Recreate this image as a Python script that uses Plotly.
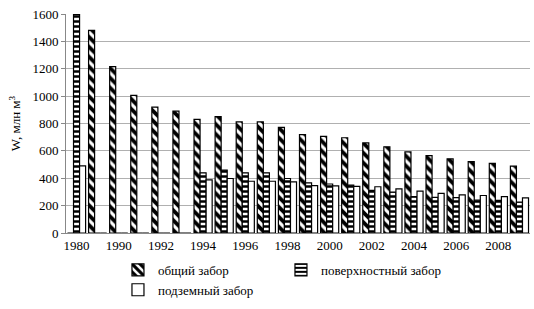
import plotly.graph_objects as go

years = ["1980", "1985", "1990", "1991", "1992", "1993", "1994", "1995", "1996", "1997",
         "1998", "1999", "2000", "2001", "2002", "2003", "2004", "2005", "2006", "2007",
         "2008", "2009"]
total = [0, 1480, 1215, 1005, 920, 890, 830, 850, 812, 812,
         772, 718, 706, 696, 658, 630, 592, 566, 542, 522,
         508, 488]
surface = [1595, 0, 0, 0, 0, 0, 440, 460, 440, 440,
           398, 366, 358, 350, 312, 298, 266, 260, 258, 240,
           238, 225]
ground = [490, 0, 0, 0, 0, 0, 388, 398, 378, 378,
          374, 346, 344, 340, 338, 322, 306, 290, 278, 274,
          266, 256]
tick_years = years[::2]

font_family = "Liberation Serif"

fig = go.Figure()
fig.add_trace(go.Bar(
    x=years, y=total, name="общий забор",
    marker=dict(color="white", line=dict(color="black", width=1.2),
                pattern=dict(shape="\\", fgcolor="black", bgcolor="white",
                             size=7, solidity=0.55, fillmode="replace")),
))
fig.add_trace(go.Bar(
    x=years, y=surface, name="поверхностный забор",
    marker=dict(color="white", line=dict(color="black", width=1.2),
                pattern=dict(shape="-", fgcolor="black", bgcolor="white",
                             size=5, solidity=0.5, fillmode="replace")),
))
fig.add_trace(go.Bar(
    x=years, y=ground, name="подземный забор",
    marker=dict(color="white", line=dict(color="black", width=1.2)),
))

fig.update_layout(
    width=534, height=309,
    margin=dict(l=66, r=4, t=14, b=76, autoexpand=False),
    paper_bgcolor="white", plot_bgcolor="white",
    barmode="group", bargap=0.14, bargroupgap=0,
    font=dict(family=font_family, size=13, color="black"),
    showlegend=True,
    legend=dict(orientation="h", x=0.112, xanchor="left", y=-0.10, yanchor="top",
                entrywidth=118, font=dict(size=13, family=font_family),
                itemwidth=30, tracegroupgap=0, bgcolor="rgba(0,0,0,0)"),
)
fig.update_xaxes(
    type="category", tickmode="array", tickvals=tick_years, ticktext=tick_years,
    showline=True, linecolor="#888", linewidth=1, ticks="", showgrid=False,
    tickfont=dict(size=13, family=font_family),
)
fig.update_yaxes(
    range=[0, 1600], dtick=200, showgrid=True, gridcolor="#b0b0b0", gridwidth=1,
    showline=True, linecolor="#888", linewidth=1, ticks="outside", ticklen=4,
    tickcolor="#888", zeroline=False,
    tickfont=dict(size=13, family=font_family),
    title=dict(text="W, млн м<sup>3</sup>", font=dict(size=13, family=font_family), standoff=8),
)

fig.write_html("out.html")
